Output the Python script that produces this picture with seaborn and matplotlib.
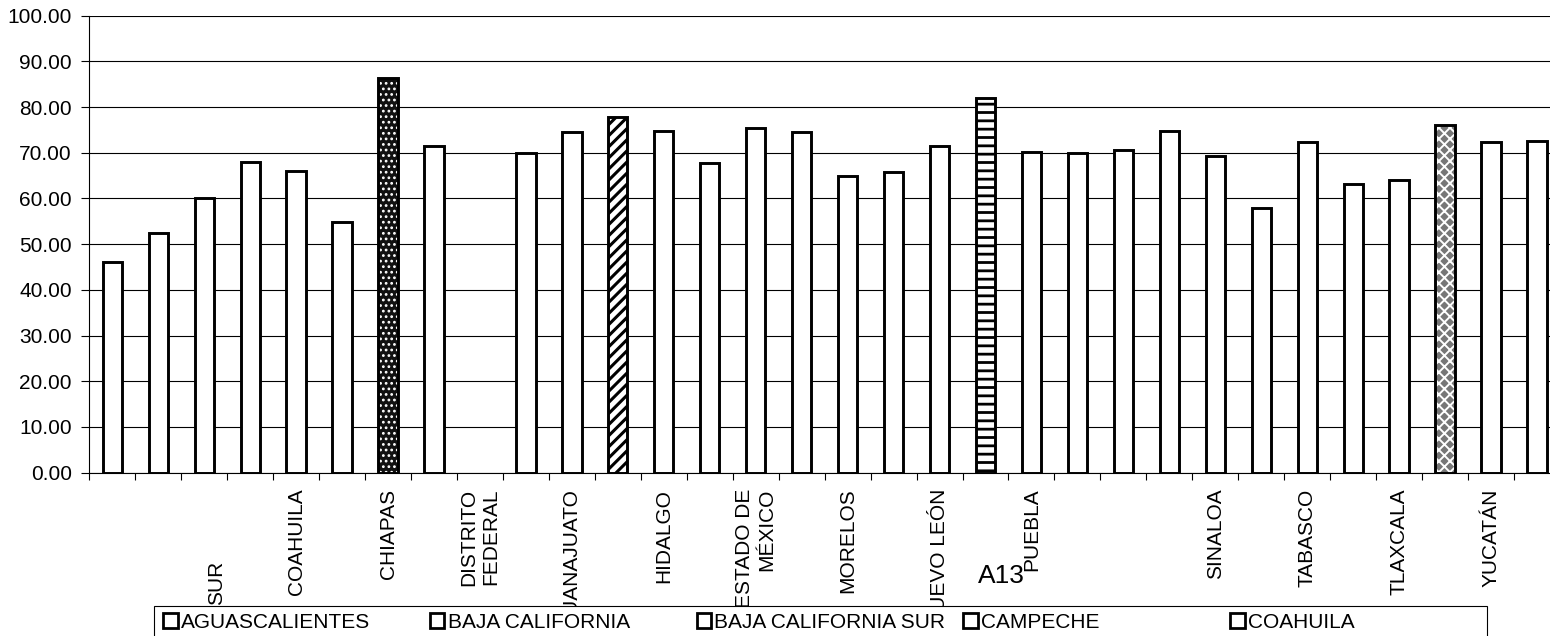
import numpy as np
import pandas as pd
import matplotlib
matplotlib.use('Agg')
import matplotlib.pyplot as plt
import matplotlib.transforms as mtransforms
from matplotlib.patches import Patch, Rectangle
from matplotlib.ticker import FixedLocator, FixedFormatter, NullFormatter, FuncFormatter
import seaborn as sns

# ---------------- data ----------------
estados = [
    "AGUASCALIENTES", "BAJA CALIFORNIA", "BAJA CALIFORNIA SUR", "CAMPECHE", "COAHUILA",
    "COLIMA", "CHIAPAS", "CHIHUAHUA", "DISTRITO FEDERAL", "DURANGO",
    "GUANAJUATO", "GUERRERO", "HIDALGO", "JALISCO", "ESTADO DE MÉXICO",
    "MICHOACÁN", "MORELOS", "NAYARIT", "NUEVO LEÓN", "OAXACA",
    "PUEBLA", "QUERÉTARO", "QUINTANA ROO", "SAN LUIS POTOSÍ", "SINALOA",
    "SONORA", "TABASCO", "TAMAULIPAS", "TLAXCALA", "VERACRUZ",
    "YUCATÁN", "ZACATECAS",
]
valores = [
    46.0, 52.4, 60.0, 67.9, 66.1,
    54.9, 86.3, 71.5, np.nan, 69.9,
    74.6, 77.9, 74.7, 67.8, 75.4,
    74.6, 64.9, 65.7, 71.4, 81.9,
    70.2, 70.0, 70.5, 74.7, 69.2,
    58.0, 72.3, 63.2, 64.0, 76.0,
    72.4, 72.6,
]
# category labels as displayed under the axis (every other one)
etiquetas_eje = [
    "", "", "", "", "COAHUILA",
    "", "CHIAPAS", "", "DISTRITO\nFEDERAL", "",
    "GUANAJUATO", "", "HIDALGO", "", "ESTADO DE\nMÉXICO",
    "", "MORELOS", "", "NUEVO LEÓN", "",
    "PUEBLA", "", "", "", "SINALOA",
    "", "TABASCO", "", "TLAXCALA", "",
    "YUCATÁN", "",
]
etiqueta_sur = "SUR"
texto_suelto = "A13"
yticks = [0, 10, 20, 30, 40, 50, 60, 70, 80, 90, 100]
n_leyenda_visible = 5  # only the first legend row is visible in the chart

# ---------------- styles ----------------
estilos = {
    6: dict(face="#111111", hatchcolor="white", hatch="...", hlw=1.2),
    11: dict(face="white", hatchcolor="black", hatch="///", hlw=2.2),
    19: dict(face="white", hatchcolor="black", hatch="--", hlw=2.0),
    29: dict(face="#777777", hatchcolor="white", hatch="xxx", hlw=1.4),
}

sns.set_theme(style="white")
plt.rcParams["font.family"] = ["Liberation Sans", "DejaVu Sans"]
plt.rcParams["hatch.linewidth"] = 1.6

W, H = 1550, 636
fig = plt.figure(figsize=(W / 100, H / 100), dpi=100)
ax = fig.add_axes([89.3 / W, 1 - 472.7 / H, (1560 - 89.3) / W, (472.7 - 15.67) / H])

df = pd.DataFrame({"estado": estados, "valor": valores})

# fill layer
sns.barplot(data=df, x="estado", y="valor", order=estados, color="white",
            saturation=1, width=0.42, errorbar=None, linewidth=0, ax=ax, zorder=2)
n_fill = len(ax.patches)
for p in ax.patches:
    i = int(round(p.get_x() + p.get_width() / 2))
    st = estilos.get(i)
    p.set_linewidth(0)
    if st:
        p.set_facecolor(st["face"])
        p.set_edgecolor(st["hatchcolor"])
        p.set_hatch(st["hatch"])
        if hasattr(p, "set_hatch_linewidth"):
            p.set_hatch_linewidth(st["hlw"])
# outline layer
sns.barplot(data=df, x="estado", y="valor", order=estados, color="white",
            saturation=1, width=0.42, errorbar=None, ax=ax, zorder=3)
for p in ax.patches[n_fill:]:
    p.set_facecolor("none")
    p.set_edgecolor("black")
    p.set_linewidth(2.1)

ax.set_xlabel("")
ax.set_ylabel("")
ax.set_xlim(-0.5, len(estados) - 0.5)
ax.set_ylim(0, 100)

# x ticks: marks between categories, labels at categories
ax.xaxis.set_major_locator(FixedLocator(np.arange(-0.5, len(estados), 1)))
ax.xaxis.set_major_formatter(NullFormatter())
ax.xaxis.set_minor_locator(FixedLocator(np.arange(len(estados))))
ax.xaxis.set_minor_formatter(FixedFormatter(etiquetas_eje))
ax.tick_params(axis="x", which="major", length=5.3, width=0.8, color="black",
               direction="out", bottom=True)
ax.tick_params(axis="x", which="minor", length=0, pad=11.5, labelsize=15,
               labelrotation=90, bottom=True, labelcolor="black")
for t in ax.xaxis.get_minor_ticks():
    t.label1.set_multialignment("right")

ax.set_yticks(yticks)
ax.yaxis.set_major_formatter(FuncFormatter(lambda v, p: f"{v:.2f}"))
ax.tick_params(axis="y", length=5.5, width=0.8, color="black", direction="out",
               pad=7, labelsize=15, left=True, labelcolor="black")
ax.yaxis.grid(True, color="black", linewidth=0.8)
ax.xaxis.grid(False)
ax.set_axisbelow(True)
for s in ["top", "right"]:
    ax.spines[s].set_visible(False)
for s in ["left", "bottom"]:
    ax.spines[s].set_color("black")
    ax.spines[s].set_linewidth(0.8)

# lowered "SUR" label of the third category
tr = mtransforms.blended_transform_factory(ax.transData, fig.transFigure)
tr = mtransforms.offset_copy(tr, fig=fig, x=12, y=0, units="dots")
ax.text(2, 1 - 561 / H, etiqueta_sur, transform=tr, rotation=90, ha="center",
        va="top", fontsize=15, color="black", clip_on=False)

# stray text
fig.text(978 / W, 1 - 583 / H, texto_suelto, fontsize=19, ha="left",
         va="baseline", color="black")

# legend: frame + 5 equal columns (first row only is visible)
fig.add_artist(Rectangle((154 / W, -0.2), (1487 - 154) / W, 0.2 + 1 - 605.7 / H,
                         transform=fig.transFigure, facecolor="white",
                         edgecolor="black", linewidth=0.8, zorder=4))
for c in range(n_leyenda_visible):
    st = estilos.get(c)
    if st:
        h = Patch(facecolor=st["face"], edgecolor="black", hatch=st["hatch"], linewidth=2)
    else:
        h = Patch(facecolor="white", edgecolor="black", linewidth=2)
    leg = fig.legend(handles=[h], labels=[estados[c]],
                     loc="upper left", bbox_to_anchor=((163 + 266.8 * c) / W, 1 - 613 / H),
                     bbox_transform=fig.transFigure, frameon=False, borderpad=0,
                     borderaxespad=0, handlelength=0.7, handleheight=0.7,
                     handletextpad=0.15, fontsize=15)
    leg.set_zorder(5)
    for t in leg.get_texts():
        t.set_color("black")

fig.savefig("out.png", dpi=100)
